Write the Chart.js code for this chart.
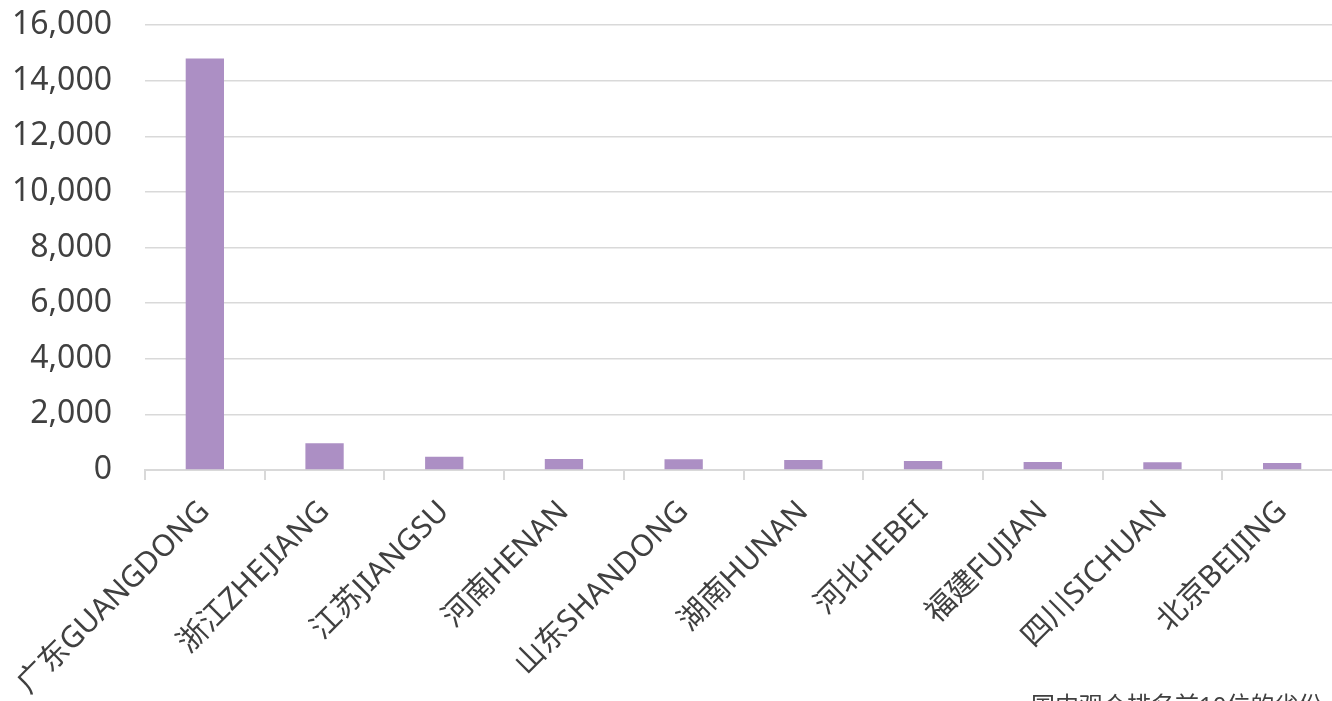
<!DOCTYPE html>
<html>
<head>
<meta charset="utf-8">
<script src="https://cdn.jsdelivr.net/npm/chart.js@4/dist/chart.umd.min.js"></script>
<style>
    html, body {
        margin: 0;
        padding: 0;
        background: #ffffff;
        overflow: hidden;
    }
    #wrap {
        width: 1342px;
        height: 701px;
    }
</style>
</head>
<body>
<div id="wrap"><canvas id="provinceChart"></canvas></div>
<script>
const provinces = [
    "广东GUANGDONG",
    "浙江ZHEJIANG",
    "江苏JIANGSU",
    "河南HENAN",
    "山东SHANDONG",
    "湖南HUNAN",
    "河北HEBEI",
    "福建FUJIAN",
    "四川SICHUAN",
    "北京BEIJING"
];

const visitors = [14800, 960, 480, 395, 385, 360, 325, 290, 275, 250];

const yTicks = [0, 2000, 4000, 6000, 8000, 10000, 12000, 14000, 16000];

const footnote = "国内观众排名前10位的省份";

const fontFamily = "'Noto Sans', 'Noto Sans CJK SC', sans-serif";

// caption under the axis, partly running off the bottom edge
const footnotePlugin = {
    id: "footnote",
    afterDraw(chart) {
        const ctx = chart.ctx;
        ctx.save();
        ctx.font = "24px " + fontFamily;
        ctx.fillStyle = "#404040";
        ctx.textAlign = "left";
        ctx.textBaseline = "top";
        ctx.fillText(footnote, 1031, 695);
        ctx.restore();
    }
};

new Chart(
    document.getElementById("provinceChart"),
    {
        type: "bar",
        data: {
            labels: provinces,
            datasets: [{
                data: visitors,
                backgroundColor: "#ac8fc4",
                borderWidth: 0,
                barPercentage: 0.32,
                categoryPercentage: 1
            }]
        },
        options: {
            responsive: true,
            maintainAspectRatio: false,
            animation: false,
            layout: {
                padding: 0
            },
            plugins: {
                legend: { display: false },
                tooltip: { enabled: false }
            },
            scales: {
                x: {
                    grid: {
                        display: true,
                        drawOnChartArea: false,
                        drawTicks: true,
                        tickLength: 10,
                        color: "#d9d9d9",
                        lineWidth: 2,
                        offset: true
                    },
                    border: {
                        display: true,
                        color: "#d9d9d9",
                        width: 2
                    },
                    ticks: {
                        minRotation: 45,
                        maxRotation: 45,
                        autoSkip: false,
                        padding: 14,
                        color: "#404040",
                        font: { family: fontFamily, size: 30 }
                    },
                    afterFit(scale) {
                        scale.height = 231;
                    }
                },
                y: {
                    min: 0,
                    max: 16000,
                    afterBuildTicks(scale) {
                        scale.ticks = yTicks.map(v => ({ value: v }));
                    },
                    grid: {
                        color: "#d9d9d9",
                        lineWidth: 1.5,
                        drawTicks: false
                    },
                    border: { display: false },
                    ticks: {
                        padding: 33,
                        color: "#404040",
                        font: { family: fontFamily, size: 32 },
                        callback: v => v.toLocaleString("en-US")
                    },
                    afterFit(scale) {
                        scale.width = 145;
                        // tick padding would otherwise push the plot down
                        scale.paddingTop = 25;
                        scale.paddingBottom = 0;
                    }
                }
            }
        },
        plugins: [footnotePlugin]
    }
);
</script>
</body>
</html>
